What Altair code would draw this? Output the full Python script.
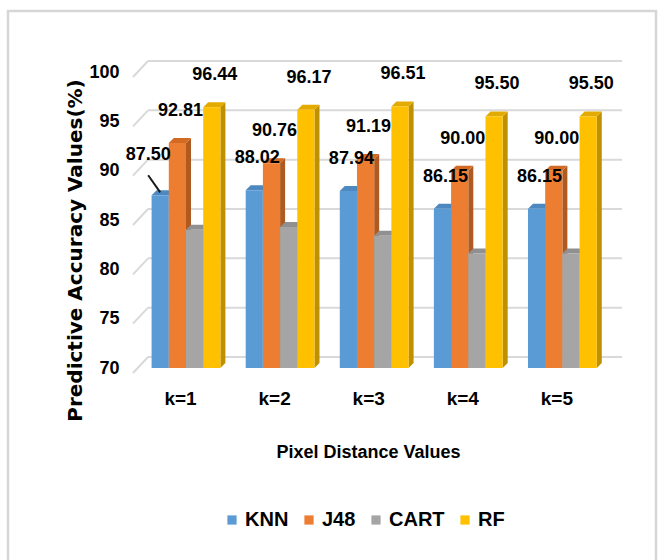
import altair as alt
import pandas as pd

# ---- values ----
categories = ["k=1", "k=2", "k=3", "k=4", "k=5"]
models = ["KNN", "J48", "CART", "RF"]
knn = [87.50, 88.02, 87.94, 86.15, 86.15]
j48 = [92.81, 90.76, 91.19, 90.00, 90.00]
cart = [84.0, 84.3, 83.4, 81.6, 81.6]
rf = [96.44, 96.17, 96.51, 95.50, 95.50]
labelled = ["KNN", "J48", "RF"]
y_ticks = [70, 75, 80, 85, 90, 95, 100]

# ---- styling ----
front_colors = ["#5B9BD5", "#ED7D31", "#A5A5A5", "#FFC000"]
top_colors = ["#4D88C0", "#D26A24", "#909090", "#E3AA00"]
side_colors = ["#41719C", "#AE5A21", "#7C7C7C", "#BF9000"]
FONT = "Liberation Sans, Arial"
GRID = "#D9D9D9"

W, H = 478, 296
X_DOMAIN = [0.458, 5.538]
Y_MIN, Y_MAX = 70, 100
px_x = W / (X_DOMAIN[1] - X_DOMAIN[0])
px_y = H / (Y_MAX - Y_MIN)
bar_w = 17.2 / px_x          # bar width in x units
ddx = 5 / px_x               # 3-D depth, horizontal
ddy = 5 / px_y               # 3-D depth, vertical

series = {"KNN": knn, "J48": j48, "CART": cart, "RF": rf}

front_rows, side_rows, top_rows = [], [], []
for i, cat in enumerate(categories):
    for j, m in enumerate(models):
        v = series[m][i]
        xc = (i + 1) + (j - 1.5) * bar_w
        x0, x1 = xc - bar_w / 2, xc + bar_w / 2
        bid = f"{cat}-{m}"
        front_rows.append(dict(bar=bid, cat=cat, model=m, value=v,
                               x0=x0, x1=x1, xc=xc, base=Y_MIN,
                               label=f"{v:.2f}"))
        side_rows += [
            dict(bar=bid, model=m, x=x1, lo=Y_MIN, hi=v),
            dict(bar=bid, model=m, x=x1 + ddx, lo=Y_MIN + ddy, hi=v + ddy),
        ]
        top_rows += [
            dict(bar=bid, model=m, y=v, lo=x0, hi=x1),
            dict(bar=bid, model=m, y=v + ddy, lo=x0 + ddx, hi=x1 + ddx),
        ]

fronts = pd.DataFrame(front_rows)
sides = pd.DataFrame(side_rows)
tops = pd.DataFrame(top_rows)
ticks_df = pd.DataFrame({"t": y_ticks})

xs = alt.Scale(domain=X_DOMAIN, nice=False, zero=False)
ys = alt.Scale(domain=[Y_MIN, Y_MAX], nice=False, zero=False)

label_expr = "[" + ",".join(f"'{c}'" for c in categories) + "][datum.value - 1]"

x_axis = alt.Axis(
    values=list(range(1, len(categories) + 1)), labelExpr=label_expr,
    grid=False, domain=False, ticks=False, labelPadding=21, labelOffset=-6,
    labelFont=FONT, labelFontSize=19, labelFontWeight="bold", labelColor="#000",
    title="Pixel Distance Values", titleFont=FONT, titleFontSize=18,
    titleFontWeight="bold", titleColor="#000", titleX=233, titleY=84,
    titleBaseline="middle", titleAlign="center",
)
y_axis = alt.Axis(
    values=y_ticks, grid=False, domain=False, ticks=False, labelPadding=16,
    labelFont=FONT, labelFontSize=18, labelFontWeight="bold", labelColor="#000",
    title="Predictive Accuracy Values(%)", titleFont="DejaVu Sans",
    titleFontSize=20, titleFontWeight="bold", titleColor="#000",
    titleAngle=270, titleX=-54, titleY=178, titleAlign="center",
    titleBaseline="alphabetic",
)


def X(field):
    return alt.X(field, scale=xs, axis=x_axis, title="Pixel Distance Values")


def Y(field):
    return alt.Y(field, scale=ys, axis=y_axis, title="Predictive Accuracy Values(%)")


dummy = pd.DataFrame({"a": [0]})

# outer frame of the figure
frame = alt.Chart(dummy).mark_rect(
    fillOpacity=0, stroke="#D6D6D6", strokeWidth=2.5
).encode(
    x=alt.value(8 - 135), x2=alt.value(656 - 135),
    y=alt.value(11 - 72), y2=alt.value(700),
)

# back-wall gridlines and their slanted side-wall segments
grid = alt.Chart(ticks_df).mark_rule(color=GRID, strokeWidth=2, yOffset=-11).encode(
    y=Y("t:Q"),
    x=alt.value(13), x2=alt.value(W + 9),
)
slant = alt.Chart(ticks_df).mark_rule(
    color=GRID, strokeWidth=2, yOffset=5, y2Offset=-11
).encode(
    y=Y("t:Q"), y2="t:Q",
    x=alt.value(-2), x2=alt.value(13),
)

side = alt.Chart(sides).mark_area(orient="vertical").encode(
    x=X("x:Q"),
    y=Y("lo:Q"), y2="hi:Q",
    detail="bar:N",
    color=alt.Color("model:N", scale=alt.Scale(domain=models, range=side_colors), legend=None),
)
top = alt.Chart(tops).mark_area(orient="horizontal").encode(
    y=Y("y:Q"),
    x=X("lo:Q"), x2="hi:Q",
    detail="bar:N",
    color=alt.Color("model:N", scale=alt.Scale(domain=models, range=top_colors), legend=None),
)
front = alt.Chart(fronts).mark_rect().encode(
    x=X("x0:Q"), x2="x1:Q",
    y=Y("value:Q"), y2="base:Q",
    color=alt.Color(
        "model:N", scale=alt.Scale(domain=models, range=front_colors),
        legend=alt.Legend(
            title=None, orient="none", legendX=87, legendY=438,
            direction="horizontal", symbolType="square", symbolSize=85,
            symbolStrokeWidth=0, labelFont=FONT, labelFontSize=20,
            labelFontWeight="bold", labelColor="#000", labelOffset=3,
            columnPadding=10,
        ),
    ),
)

lab_data = fronts[fronts["model"].isin(labelled)]
is_first_knn = (lab_data["model"] == "KNN") & (lab_data["cat"] == categories[0])

labels = alt.Chart(lab_data[~is_first_knn]).mark_text(
    dy=-32, dx=3, font=FONT, fontSize=18, fontWeight="bold",
    color="#000", baseline="middle",
).encode(
    x=X("xc:Q"),
    y=Y("value:Q"),
    text="label:N",
)
label_first = alt.Chart(lab_data[is_first_knn]).mark_text(
    dy=-40, dx=-12, font=FONT, fontSize=18, fontWeight="bold",
    color="#000", baseline="middle",
).encode(
    x=X("xc:Q"),
    y=Y("value:Q"),
    text="label:N",
)
leader = alt.Chart(lab_data[is_first_knn]).mark_point(
    shape="stroke", angle=55, size=441, strokeWidth=2, color="#1A1A1A",
    opacity=1, filled=False, xOffset=-6, yOffset=-11.5,
).encode(
    x=X("xc:Q"),
    y=Y("value:Q"),
)

chart = alt.layer(
    frame, grid, slant, side, top, front, labels, label_first, leader
).resolve_scale(color="independent").properties(
    width=W, height=H,
    autosize=alt.AutoSizeParams(type="none"),
    padding={"left": 135, "top": 72, "right": 662 - 135 - W, "bottom": 560 - 72 - H},
    background="#FFFFFF",
).configure_view(stroke=None)

chart.save("out.html", embed_options={"renderer": "svg", "actions": False})
